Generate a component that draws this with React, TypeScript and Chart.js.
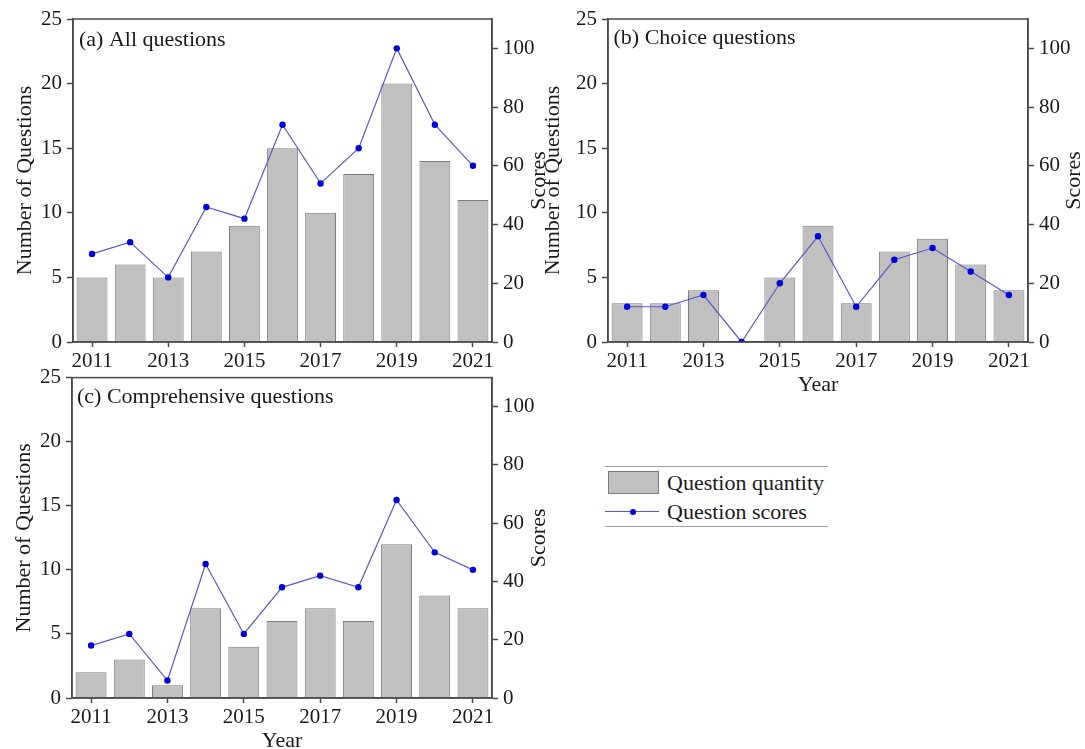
import React, { useEffect, useRef } from 'react';
import { Chart, registerables } from 'chart.js';

Chart.register(...registerables);

// ---------------- data ----------------
const years = ['2011', '2012', '2013', '2014', '2015', '2016', '2017', '2018', '2019', '2020', '2021'];
const allCounts = [5, 6, 5, 7, 9, 15, 10, 13, 20, 14, 11];
const allScores = [30, 34, 22, 46, 42, 74, 54, 66, 100, 74, 60];
const choiceCounts = [3, 3, 4, 0, 5, 9, 3, 7, 8, 6, 4];
const choiceScores = [12, 12, 16, 0, 20, 36, 12, 28, 32, 24, 16];
const compCounts = [2, 3, 1, 7, 4, 6, 7, 6, 12, 8, 7];
const compScores = [18, 22, 6, 46, 22, 38, 42, 38, 68, 50, 44];
const countAxis = { min: 0, max: 25, step: 5 };
const scoreAxis = { min: 0, max: 110, step: 20 };
const panelTitles = ['(a) All questions', '(b) Choice questions', '(c) Comprehensive questions'];
const legendLabels = ['Question quantity', 'Question scores'];
const axisTitles = { count: 'Number of Questions', score: 'Scores', year: 'Year' };

// ---------------- style ----------------
const FONT = "'Liberation Serif', 'Times New Roman', serif";
const AXIS = '#4a4a4a';
const TEXT = '#1a1a1a';
const BAR = '#c0c0c0';
const BAR_EDGE = '#7c7c7c';
const LINE = '#5a5ac4';
const DOT = '#0000d8';

type PanelProps = {
  left: number; top: number; width: number; height: number;
  padTop: number; wL: number; wR: number; hX: number;
  counts: number[]; scores: number[]; label: string; labelDx: number; labelDy: number;
  showYear: boolean; padTitleL: number; scoreTitleInset: number; padYear: number;
};

const framePlugin = {
  id: 'frame',
  afterDraw(chart: any) {
    const { ctx, chartArea: a } = chart;
    ctx.save();
    ctx.strokeStyle = AXIS;
    ctx.lineWidth = 1.5;
    ctx.strokeRect(a.left, a.top, a.right - a.left, a.bottom - a.top);
    ctx.restore();
  },
};

function Panel(p: PanelProps) {
  const ref = useRef<HTMLCanvasElement | null>(null);
  useEffect(() => {
    if (!ref.current) return;
    const textPlugin = {
      id: 'panelText',
      afterDraw(chart: any) {
        const { ctx, chartArea: a } = chart;
        ctx.save();
        ctx.fillStyle = TEXT;
        ctx.font = `22px ${FONT}`;
        ctx.textBaseline = 'middle';
        ctx.textAlign = 'left';
        ctx.fillText(p.label, a.left + p.labelDx, a.top + p.labelDy);
        // right-axis title, reading bottom-to-top like the left one
        const r = chart.scales.y1;
        ctx.translate(r.right - p.scoreTitleInset, (a.top + a.bottom) / 2);
        ctx.rotate(-Math.PI / 2);
        ctx.textAlign = 'center';
        ctx.fillText(axisTitles.score, 0, 0);
        ctx.restore();
      },
    };
    const tickFont = { family: FONT, size: 21 };
    const titleFont = { family: FONT, size: 22, lineHeight: 1 };
    const chart = new Chart(ref.current, {
      type: 'bar',
      data: {
        labels: years,
        datasets: [
          {
            type: 'line',
            label: legendLabels[1],
            data: p.scores,
            yAxisID: 'y1',
            borderColor: LINE,
            borderWidth: 1.2,
            pointRadius: 3.2,
            pointBackgroundColor: DOT,
            pointBorderColor: DOT,
            pointBorderWidth: 0,
            tension: 0,
            order: 1,
          } as any,
          {
            type: 'bar',
            label: legendLabels[0],
            data: p.counts,
            yAxisID: 'y',
            backgroundColor: BAR,
            borderColor: BAR_EDGE,
            borderWidth: 1,
            barPercentage: 0.81,
            categoryPercentage: 1,
            order: 2,
          } as any,
        ],
      },
      options: {
        responsive: false,
        animation: false,
        devicePixelRatio: 1,
        layout: { padding: { top: p.padTop, left: 0, right: 0, bottom: 0 } },
        plugins: { legend: { display: false }, tooltip: { enabled: false }, title: { display: false } },
        scales: {
          x: {
            type: 'category',
            offset: true,
            grid: {
              offset: false,
              drawOnChartArea: false,
              drawTicks: true,
              tickLength: 5,
              tickWidth: 1.5,
              tickColor: (c: any) => (c.index % 2 === 0 ? AXIS : 'rgba(0,0,0,0)'),
            },
            border: { color: AXIS, width: 1.5 },
            ticks: {
              autoSkip: false,
              maxRotation: 0,
              minRotation: 0,
              padding: 2,
              color: TEXT,
              font: tickFont,
              callback: (_v: any, i: number) => (i % 2 === 0 ? years[i] : ''),
            },
            title: { display: p.showYear, text: axisTitles.year, color: TEXT, font: titleFont, padding: { top: 0, bottom: p.padYear } },
            afterFit: (s: any) => { s.height = p.hX; },
          },
          y: {
            position: 'left',
            min: countAxis.min,
            max: countAxis.max,
            ticks: { stepSize: countAxis.step, padding: 5, color: TEXT, font: tickFont },
            grid: { drawOnChartArea: false, drawTicks: true, tickLength: 6, tickWidth: 1.5, tickColor: AXIS },
            border: { color: AXIS, width: 1.5 },
            title: { display: true, text: axisTitles.count, color: TEXT, font: titleFont, padding: { top: p.padTitleL, bottom: 0 } },
            afterFit: (s: any) => { s.width = p.wL; },
          },
          y1: {
            position: 'right',
            min: scoreAxis.min,
            max: scoreAxis.max,
            ticks: { stepSize: scoreAxis.step, includeBounds: false, padding: 5, color: TEXT, font: tickFont },
            grid: { drawOnChartArea: false, drawTicks: true, tickLength: 6, tickWidth: 1.5, tickColor: AXIS },
            border: { color: AXIS, width: 1.5 },
            title: { display: false },
            afterFit: (s: any) => { s.width = p.wR; },
          },
        },
      } as any,
      plugins: [framePlugin, textPlugin],
    });
    return () => chart.destroy();
  }, []);
  return (
    <canvas
      ref={ref}
      width={p.width}
      height={p.height}
      style={{ position: 'absolute', left: p.left, top: p.top, width: p.width, height: p.height }}
    />
  );
}

function Legend() {
  const txt: React.CSSProperties = {
    position: 'absolute', left: 667, fontFamily: FONT, fontSize: 22, color: TEXT,
    height: 30, lineHeight: '30px', whiteSpace: 'nowrap',
  };
  return (
    <>
      <div style={{ position: 'absolute', left: 605, top: 465.5, width: 223, height: 1, background: '#a0a0a0' }} />
      <div style={{ position: 'absolute', left: 605, top: 526.2, width: 223, height: 1, background: '#a0a0a0' }} />
      <div style={{ position: 'absolute', left: 608, top: 470.7, width: 51, height: 23.6, boxSizing: 'border-box', background: BAR, border: `1px solid ${BAR_EDGE}` }} />
      <div style={{ ...txt, top: 483 - 15 }}>{legendLabels[0]}</div>
      <div style={{ position: 'absolute', left: 605, top: 511.2, width: 54, height: 1.2, background: LINE }} />
      <div style={{ position: 'absolute', left: 629.8, top: 508.5, width: 6.4, height: 6.4, borderRadius: '50%', background: DOT }} />
      <div style={{ ...txt, top: 511.7 - 15 }}>{legendLabels[1]}</div>
    </>
  );
}

export default function App() {
  return (
    <div style={{ position: 'absolute', left: 0, top: 0, width: 1085, height: 749, overflow: 'hidden', background: '#fff' }}>
      <Panel left={0} top={0} width={560} height={400} padTop={19} wL={73} wR={68} hX={58}
        counts={allCounts} scores={allScores} label={panelTitles[0]} labelDx={6} labelDy={21}
        showYear={false} padTitleL={14} scoreTitleInset={21} padYear={0} />
      <Panel left={530} top={0} width={555} height={400} padTop={19} wL={78} wR={57} hX={58}
        counts={choiceCounts} scores={choiceScores} label={panelTitles[1]} labelDx={5.5} labelDy={19}
        showYear={true} padTitleL={12} scoreTitleInset={10.5} padYear={4} />
      <Panel left={0} top={360} width={560} height={410} padTop={16} wL={72} wR={68} hX={72}
        counts={compCounts} scores={compScores} label={panelTitles[2]} labelDx={5} labelDy={19.5}
        showYear={true} padTitleL={13} scoreTitleInset={21} padYear={18} />
      <Legend />
    </div>
  );
}
